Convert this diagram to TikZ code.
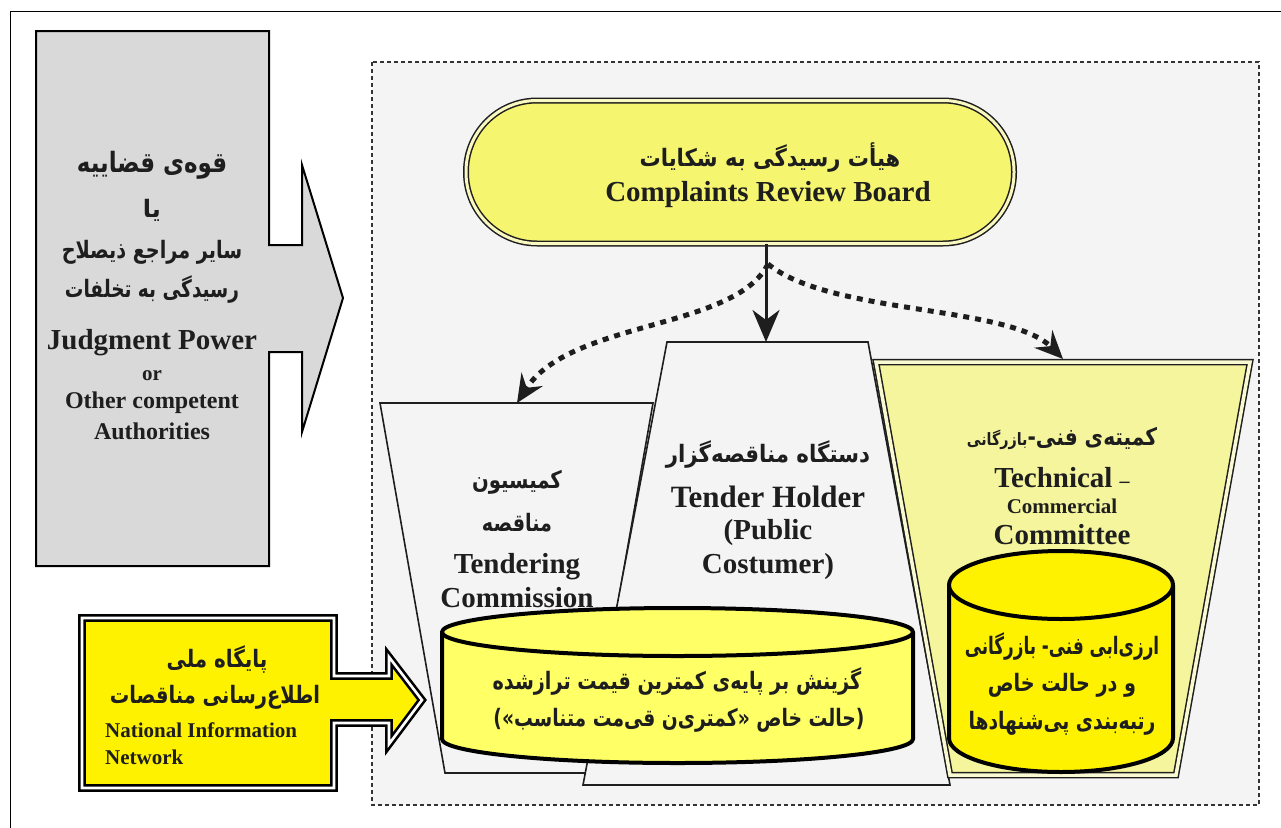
\documentclass[tikz,border=0pt]{standalone}
\usepackage{graphicx}
\usepackage{fontspec}
\setmainfont{Liberation Serif}
\newfontfamily\fa[Script=Arabic]{DejaVu Sans}
\TeXXeTstate=1
\usetikzlibrary{arrows.meta}
\definecolor{ink}{HTML}{1E1E1E}
\definecolor{paper}{HTML}{F4F4F4}
\definecolor{judggray}{HTML}{D9D9D9}
\definecolor{boardfill}{HTML}{F5F56F}
\definecolor{boardgap}{HTML}{F8F8C0}
\definecolor{commfill}{HTML}{F5F59E}
\definecolor{commgap}{HTML}{FAFAD2}
\definecolor{midyel}{HTML}{FFFF66}
% persian line, squeezed sideways by the optional factor
\newcommand{\fat}[2][1]{\scalebox{#1}[1]{\fa\bfseries\beginR #2\endR}}

\begin{document}
\begin{tikzpicture}[x=1pt,y=-1pt,>={Stealth[length=32pt,width=27pt,inset=10pt]},
    every node/.style={text=ink,inner sep=0pt},
    en/.style={font=\bfseries\fontsize{29}{33}\selectfont},
    ensmall/.style={font=\bfseries\fontsize{21}{25}\selectfont},
    faline/.style={font=\fontsize{24}{28}\selectfont},
    shell/.style={draw=ink,line width=1.6pt,fill=paper},
    drum/.style={draw=black,line width=4pt,line join=round},
    flow/.style={->,draw=ink,line width=3pt},
    hint/.style={-{Stealth[length=28pt,width=25pt,inset=10pt]},draw=ink,line width=5pt,dash pattern=on 6pt off 6pt}]

  \useasboundingbox (0,0) rectangle (1281,827);
  \clip (0,0) rectangle (1281,827);
  \fill[white] (0,0) rectangle (1281,827);
  \draw[line width=1pt] (10,11) rectangle (1300,850);

  % judgment power arrow
  \draw[fill=judggray,draw=black,line width=2pt] (36,31) -- (269,31) -- (269,245)
    -- (302,245) -- (302,165) -- (343,298) -- (302,432) -- (302,352) -- (269,352)
    -- (269,566) -- (36,566) -- cycle;
  \node[faline,font=\fontsize{28}{32}\selectfont] (jp1) at (152,165) {\fat[0.82]{قوه‌ی قضاییه}};
  \node[faline] (jp2) at (152,210) {\fat{یا}};
  \node[faline] (jp3) at (152,252) {\fat[0.80]{سایر مراجع ذیصلاح}};
  \node[faline] (jp4) at (152,290) {\fat[0.77]{رسیدگی به تخلفات}};
  \node[en] (jp5) at (152,343) {Judgment Power};
  \node[ensmall] (jp6) at (152,376) {or};
  \node[en,font=\bfseries\fontsize{24}{28}\selectfont] (jp7) at (152,403) {Other competent};
  \node[en,font=\bfseries\fontsize{24}{28}\selectfont] (jp8) at (152,431) {Authorities};

  % dashed area
  \draw[fill=paper,draw=black!80,line width=1.2pt,dash pattern=on 4pt off 3pt]
    (372,62) rectangle (1259,805);

  % national network arrow
  \draw[fill=yellow,draw=black,line width=2.6pt,double=white,double distance=2.6pt]
    (82,618) -- (334,618) -- (334,676) -- (389,676) -- (389,657) -- (422,700)
    -- (389,744) -- (389,723) -- (334,723) -- (334,788) -- (82,788) -- cycle;
  \node[faline] (nn1) at (217,660) {\fat[0.83]{پایگاه ملی}};
  \node[faline] (nn2) at (215,697) {\fat[0.81]{اطلاع‌رسانی مناقصات}};
  \node[ensmall,anchor=west] (nn3) at (105,730) {National Information};
  \node[ensmall,anchor=west] (nn4) at (105,757) {Network};

  % the three bodies
  \draw[shell] (380,403) -- (653,403) -- (588,773) -- (445,773) -- cycle;
  \draw[shell] (667,342) -- (868,342) -- (950,785) -- (583,785) -- cycle;
  \draw[fill=commfill,draw=ink,line width=1.5pt,double=commgap,double distance=3.5pt]
    (876,362) -- (1250,362) -- (1176,775) -- (950,775) -- cycle;

  \node[faline] (tc1) at (517,482) {\fat[0.82]{کمیسیون}};
  \node[faline] (tc2) at (517,523) {\fat[0.80]{مناقصه}};
  \node[en] (tc3) at (517,567) {Tendering};
  \node[en] (tc4) at (517,598) {Commission};

  \node[faline] (th1) at (768,455) {\fat[0.89]{دستگاه مناقصه‌گزار}};
  \node[en,font=\bfseries\fontsize{31}{35}\selectfont] (th2) at (768,497) {Tender Holder};
  \node[en] (th3) at (768,533) {(Public};
  \node[en] (th4) at (768,567) {Costumer)};

  \node[faline] (cm1) at (1062,438) {\fat[0.84]{کمیته‌ی فنی\kern0pt-\kern0pt{\fontsize{17}{20}\selectfont بازرگانی}}};
  \node[en] (cm2) at (1062,478) {Technical {\fontsize{20}{24}\selectfont –}};
  \node[ensmall] (cm3) at (1062,506) {Commercial};
  \node[en] (cm4) at (1062,535) {Committee};

  % board
  \node[draw=ink,fill=boardfill,line width=1.5pt,double=boardgap,double distance=3pt,
    minimum width=548pt,minimum height=143pt,rounded corners=71pt] (crb) at (740,172) {};
  \node[faline] (crb1) at (770,158) {\fat[0.88]{هیأت رسیدگی به شکایات}};
  \node[en] (crb2) at (768,195) {Complaints Review Board};

  \coordinate (tc) at (517,403);
  \coordinate (th) at (766,342);
  \coordinate (cc) at (1063,359);
  \coordinate (fork) at (768,264);

  \draw[flow] (crb.south -| th) -- (th);
  \draw[hint] (fork) .. controls (735,330) and (570,320) .. (tc);
  \draw[hint] (fork) .. controls (830,315) and (1010,305) .. (cc);

  % drums
  \path[drum,fill=midyel] (442,632) -- (442,739)
    arc[start angle=180,end angle=360,x radius=235.5pt,y radius=24pt] -- (913,632);
  \draw[drum,fill=midyel] (677.5,632) ellipse[x radius=235.5pt,y radius=24pt];
  \node[faline] (md1) at (677,682) {\fat[0.80]{گزینش بر پایه‌ی کمترین قیمت ترازشده}};
  \node[faline] (md2) at (679,720) {\fat[0.78]{(حالت خاص «کمتری‌ن قی‌مت متناسب»)}};

  \path[drum,fill=yellow] (949,585) -- (949,738)
    arc[start angle=180,end angle=360,x radius=112pt,y radius=34pt] -- (1173,585);
  \draw[drum,fill=yellow] (1061,585) ellipse[x radius=112pt,y radius=34pt];
  \node[faline] (rd1) at (1062,647) {\fat[0.70]{ارزی‌ابی فنی\kern0pt-\kern0pt{} بازرگانی}};
  \node[faline] (rd2) at (1062,685) {\fat[0.80]{و در حالت خاص}};
  \node[faline] (rd3) at (1062,723) {\fat[0.78]{رتبه‌بندی پی‌شنهادها}};
\end{tikzpicture}
\end{document}
